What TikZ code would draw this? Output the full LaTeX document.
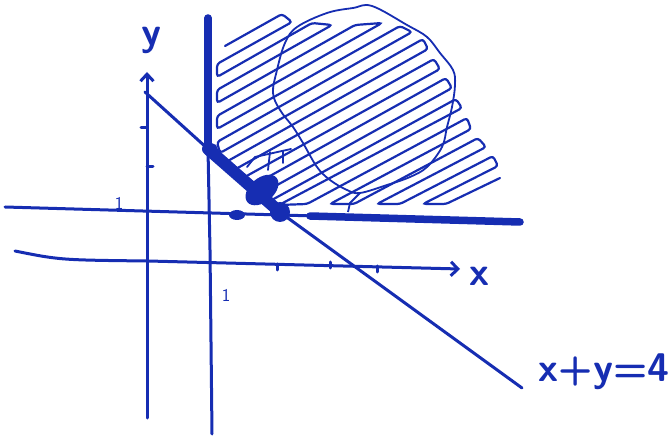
\documentclass[tikz,border=0pt]{standalone}
\usepackage{tikz}
\usetikzlibrary{arrows.meta}
\definecolor{ink}{RGB}{22,45,178}
\tikzset{
  pen/.style={draw=ink, line width=3pt, line cap=round, line join=round},
  boldpen/.style={draw=ink, line width=7.5pt, line cap=round, line join=round},
  hatchpen/.style={draw=ink, line width=2.2pt, line cap=round, rounded corners=3pt},
  handtext/.style={text=ink, inner sep=0pt, font=\sffamily\bfseries\fontsize{40}{40}\selectfont},
  smalltext/.style={text=ink, inner sep=0pt, font=\sffamily\fontsize{18}{18}\selectfont}
}

\begin{document}
\begin{tikzpicture}[x=1pt,y=-1pt]
  \useasboundingbox (0,0) rectangle (672,438);

  % Axes
  \draw[pen,-{Straight Barb[length=7pt,width=13pt]}] (147,418) -- (147,72);
  \draw[pen,-{Straight Barb[length=7pt,width=14pt]}] (15,251) .. controls (60,260) .. (148,261) -- (460,269);
  \node[handtext] (ylab) at (151,40) {y};
  \node[handtext] (xlab) at (479,276) {x};

  % Ticks
  \draw[pen] (141,128) -- (147,128);
  \draw[pen] (147,167) -- (153,167);
  \draw[pen] (277,264) -- (277,270);
  \draw[pen] (330,262) -- (330,268);
  \draw[pen] (377,266) -- (377,272);
  \node[smalltext] (oneY) at (119,203) {1};
  \node[smalltext] (oneX) at (226,295) {1};

  % Lines x=1, y=1 and x+y=4
  \coordinate (A) at (208,149);
  \coordinate (B) at (281,213);
  \draw[pen] (A) -- (210,250) -- (212,434);
  \draw[pen] (5,207) -- (522,222);
  \draw[pen] (145,92) -- (A) -- (B) -- (522,388);
  \node[handtext] (eqlab) at (604,372) {x+y=4};

  % Boundary of the feasible region
  \draw[boldpen] (208,18) -- (A);
  \draw[ink, line width=12pt, line cap=round] (A) -- (B);
  \draw[boldpen] (310,216) -- (520,222);

  % Corner points
  \draw[ink, line width=4pt] (211,150) circle (5);
  \fill[ink, rotate around={40:(262,190)}] (262,190) ellipse (19 and 12);
  \fill[ink] (280,212) circle (10);
  \fill[ink] (237,215) ellipse (8 and 5);

  % Hatching
  \draw[hatchpen] (225,46) -- (282,14) -- (292,22) -- (217,64) -- (217,77) -- (312,23)
    -- (332,25) -- (217,90) -- (217,103) -- (355,25) -- (382,23) -- (217,116)
    -- (217,129) -- (400,26) -- (412,32) -- (217,142) -- (220,153) -- (423,39)
    -- (428,49) -- (226,162) -- (234,170) -- (434,59) -- (440,69) -- (243,178)
    -- (252,186) -- (446,78) -- (452,88) -- (261,194) -- (270,201) -- (456,99)
    -- (462,108) -- (279,205) -- (307,204) -- (467,118) -- (471,129) -- (330,204)
    -- (354,204) -- (478,138) -- (486,147) -- (377,204) -- (400,204) -- (493,156)
    -- (498,166) -- (423,204) -- (446,204) -- (500,178);
  \draw[pen, line width=1.8pt] (247,167) -- (255,157) -- (291,149);
  \draw[pen, line width=1.8pt] (270,152) -- (268,170);
  \draw[pen, line width=1.8pt] (283,151) -- (283,163);

  % Level set blob
  \draw[ink, line width=1.8pt] plot[smooth cycle, tension=0.6] coordinates {
    (285,43) (297,27) (327,13) (353,8) (372,6) (407,25) (427,37) (440,53)
    (453,70) (455,85) (452,107) (447,127) (442,147) (427,167) (410,177)
    (387,185) (360,193) (347,190) (330,180) (317,167) (303,143) (293,127)
    (280,110) (273,93) (277,70)};
  \draw[ink, line width=1.8pt] (360,193) -- (350,203) -- (348,212);
\end{tikzpicture}
\end{document}
